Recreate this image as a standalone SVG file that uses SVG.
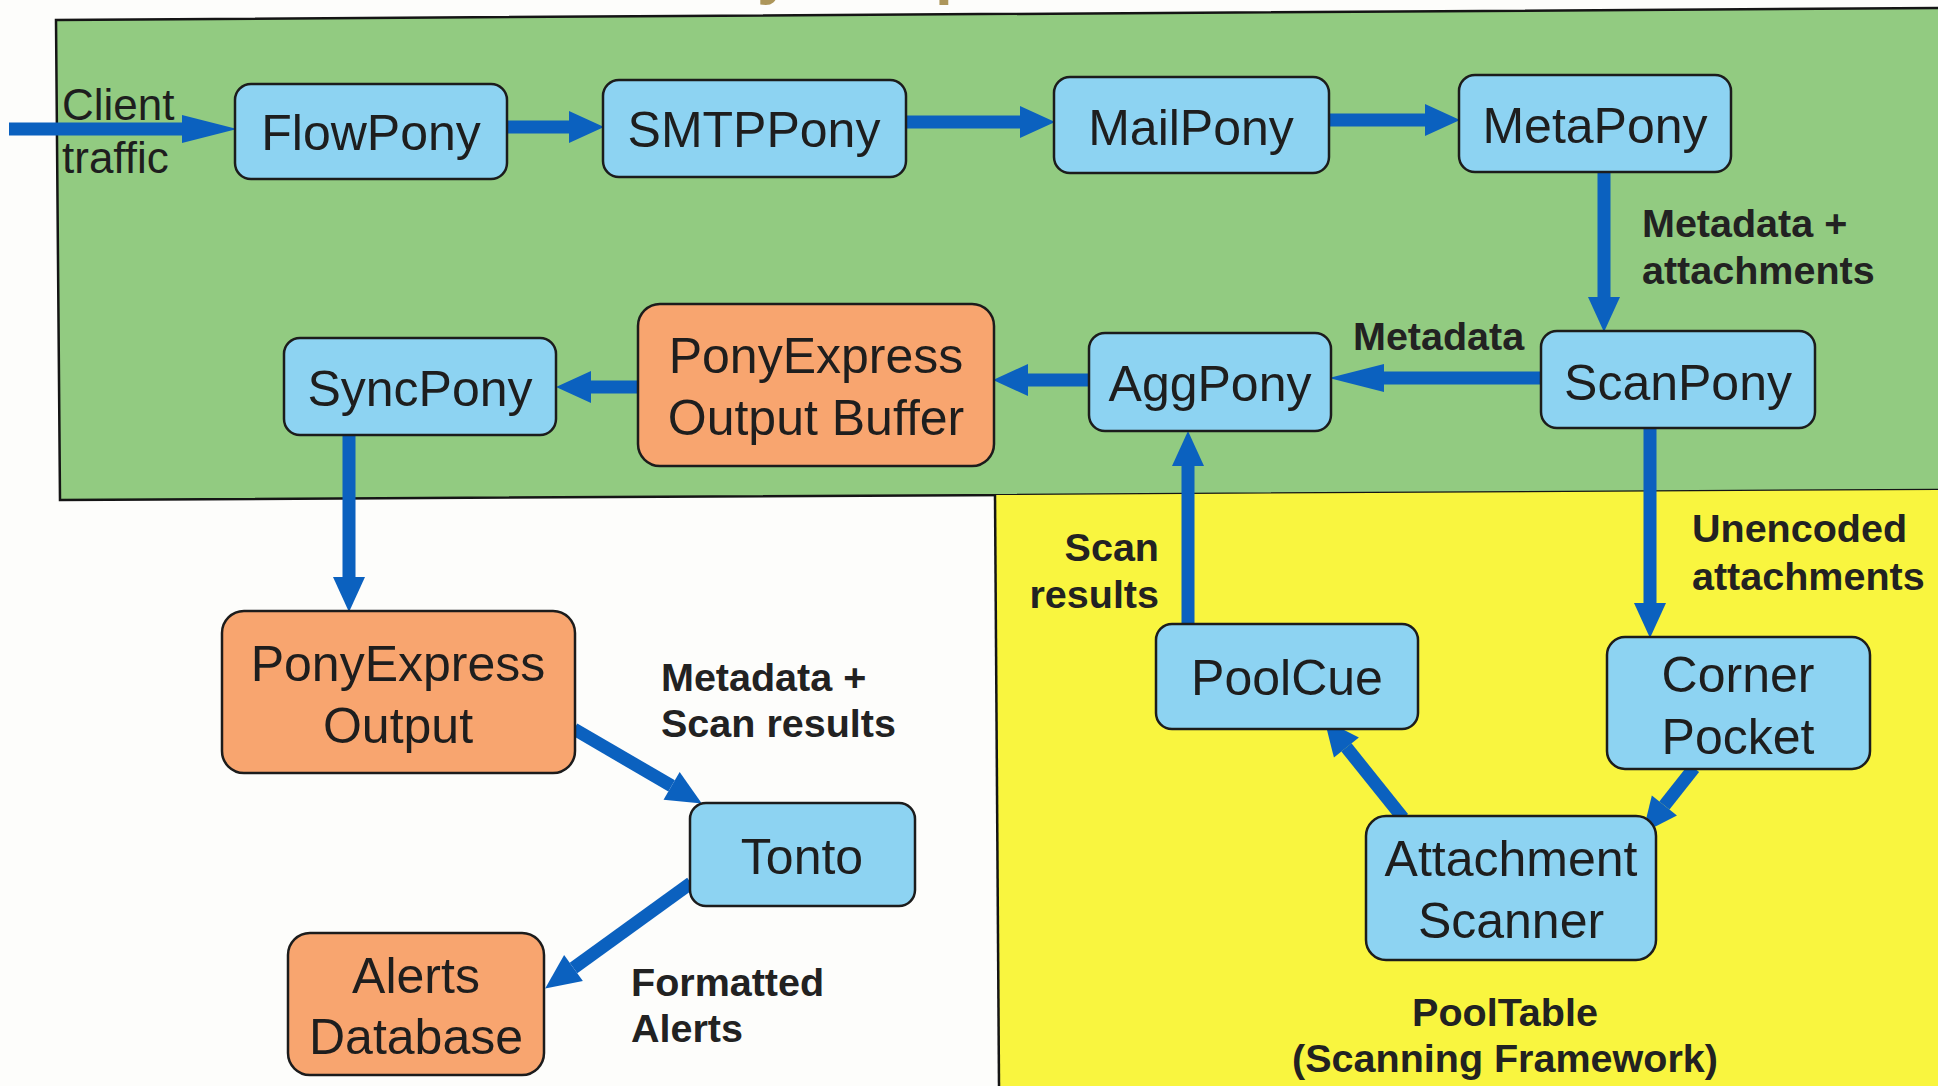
<svg xmlns="http://www.w3.org/2000/svg" width="1938" height="1086" viewBox="0 0 1938 1086">
<style>
.node rect{stroke:#1c1c1c;stroke-width:2.5}
.blue rect{fill:#8dd3f2}
.orange rect{fill:#f8a56f}
.nl{font-family:"Liberation Sans",Arial,sans-serif;font-size:50px;fill:#1e1e1e;text-anchor:middle}
.el{font-family:"Liberation Sans",Arial,sans-serif;font-size:39.5px;font-weight:bold;fill:#222}
.cl{font-family:"Liberation Sans",Arial,sans-serif;font-size:44px;fill:#1e1e1e}
.conn path{fill:none;stroke:#0b61bf;stroke-width:13;stroke-linejoin:miter}
.border{fill:none;stroke:#151515;stroke-width:2.5}
</style>
<defs>
<marker id="ah" markerUnits="userSpaceOnUse" markerWidth="36" markerHeight="32" refX="0" refY="16" orient="auto" overflow="visible">
<path d="M0,0 L35,16 L0,32 Z" fill="#0b61bf"/>
</marker>
<marker id="ahl" markerUnits="userSpaceOnUse" markerWidth="56" markerHeight="28" refX="0" refY="14" orient="auto" overflow="visible">
<path d="M0,0 L55,14 L0,28 Z" fill="#0b61bf"/>
</marker>
</defs>
<rect x="0" y="0" width="1938" height="1086" fill="#fdfdfb"/>
<g id="title-fragment">
<text x="757" y="-8" font-family="Liberation Sans,Arial,sans-serif" font-size="64" font-weight="bold" fill="#ad965a">y</text>
<text x="935" y="-8" font-family="Liberation Sans,Arial,sans-serif" font-size="64" font-weight="bold" fill="#ad965a">p</text>
</g>
<g id="regions">
<path d="M56,20 L1938,8 L1938,490 L60,500 Z" fill="#92cb81"/>
<path class="border" d="M1938,8 L56,20 L60,500 L1938,490"/>
<path d="M995,495 L1938,490 L1938,1086 L999,1086 Z" fill="#f9f53f"/>
<path class="border" d="M995,495 L999,1086"/>
</g>
<g id="connectors" class="conn">
<path d="M9,129 L182,129" marker-end="url(#ahl)"/>
<path d="M505,127 L569,127" marker-end="url(#ah)"/>
<path d="M904,122 L1020,122" marker-end="url(#ah)"/>
<path d="M1327,120 L1425,120" marker-end="url(#ah)"/>
<path d="M1604,170 L1604,297" marker-end="url(#ah)"/>
<path d="M1543,378 L1384,378" marker-end="url(#ahl)"/>
<path d="M1091,380 L1028,380" marker-end="url(#ah)"/>
<path d="M640,387 L591,387" marker-end="url(#ah)"/>
<path d="M349,433 L349,577" marker-end="url(#ah)"/>
<path d="M574,729 L671.6,785.9" marker-end="url(#ah)"/>
<path d="M691,883 L573.5,968" marker-end="url(#ah)"/>
<path d="M1188,626 L1188,466" marker-end="url(#ah)"/>
<path d="M1650,426 L1650,603" marker-end="url(#ah)"/>
<path d="M1694,768 L1664.4,805.5" marker-end="url(#ah)"/>
<path d="M1403,818 L1346.4,747.4" marker-end="url(#ah)"/>
</g>
<g id="n-flowpony" class="node blue"><rect x="235" y="84" width="272" height="95" rx="16"/><text class="nl" x="371" y="150">FlowPony</text></g>
<g id="n-smtppony" class="node blue"><rect x="603" y="80" width="303" height="97" rx="16"/><text class="nl" x="754" y="147">SMTPPony</text></g>
<g id="n-mailpony" class="node blue"><rect x="1054" y="77" width="275" height="96" rx="16"/><text class="nl" x="1191" y="145">MailPony</text></g>
<g id="n-metapony" class="node blue"><rect x="1459" y="75" width="272" height="97" rx="16"/><text class="nl" x="1595" y="143">MetaPony</text></g>
<g id="n-scanpony" class="node blue"><rect x="1541" y="331" width="274" height="97" rx="16"/><text class="nl" x="1678" y="400">ScanPony</text></g>
<g id="n-aggpony" class="node blue"><rect x="1089" y="333" width="242" height="98" rx="16"/><text class="nl" x="1210" y="401">AggPony</text></g>
<g id="n-buffer" class="node orange"><rect x="638" y="304" width="356" height="162" rx="22"/><text class="nl" x="816" y="373">PonyExpress</text><text class="nl" x="816" y="435">Output Buffer</text></g>
<g id="n-syncpony" class="node blue"><rect x="284" y="338" width="272" height="97" rx="16"/><text class="nl" x="420" y="406">SyncPony</text></g>
<g id="n-peoutput" class="node orange"><rect x="222" y="611" width="353" height="162" rx="22"/><text class="nl" x="398" y="681">PonyExpress</text><text class="nl" x="398" y="743">Output</text></g>
<g id="n-tonto" class="node blue"><rect x="690" y="803" width="225" height="103" rx="16"/><text class="nl" x="802" y="874">Tonto</text></g>
<g id="n-alerts" class="node orange"><rect x="288" y="933" width="256" height="142" rx="22"/><text class="nl" x="416" y="993">Alerts</text><text class="nl" x="416" y="1054">Database</text></g>
<g id="n-poolcue" class="node blue"><rect x="1156" y="624" width="262" height="105" rx="16"/><text class="nl" x="1287" y="695">PoolCue</text></g>
<g id="n-corner" class="node blue"><rect x="1607" y="637" width="263" height="132" rx="18"/><text class="nl" x="1738" y="692">Corner</text><text class="nl" x="1738" y="754">Pocket</text></g>
<g id="n-attscan" class="node blue"><rect x="1366" y="816" width="290" height="144" rx="20"/><text class="nl" x="1511" y="876">Attachment</text><text class="nl" x="1511" y="938">Scanner</text></g>
<g id="labels">
<text class="cl" x="62" y="120">Client</text>
<text class="cl" x="62" y="173">traffic</text>
<text class="el" x="1642" y="237">Metadata +</text>
<text class="el" x="1642" y="284">attachments</text>
<text class="el" x="1353" y="350">Metadata</text>
<text class="el" x="1159" y="561" text-anchor="end">Scan</text>
<text class="el" x="1159" y="608" text-anchor="end">results</text>
<text class="el" x="1692" y="542">Unencoded</text>
<text class="el" x="1692" y="590">attachments</text>
<text class="el" x="1505" y="1026" text-anchor="middle">PoolTable</text>
<text class="el" x="1505" y="1072" text-anchor="middle">(Scanning Framework)</text>
<text class="el" x="661" y="691">Metadata +</text>
<text class="el" x="661" y="737">Scan results</text>
<text class="el" x="631" y="996">Formatted</text>
<text class="el" x="631" y="1042">Alerts</text>
</g>
</svg>
